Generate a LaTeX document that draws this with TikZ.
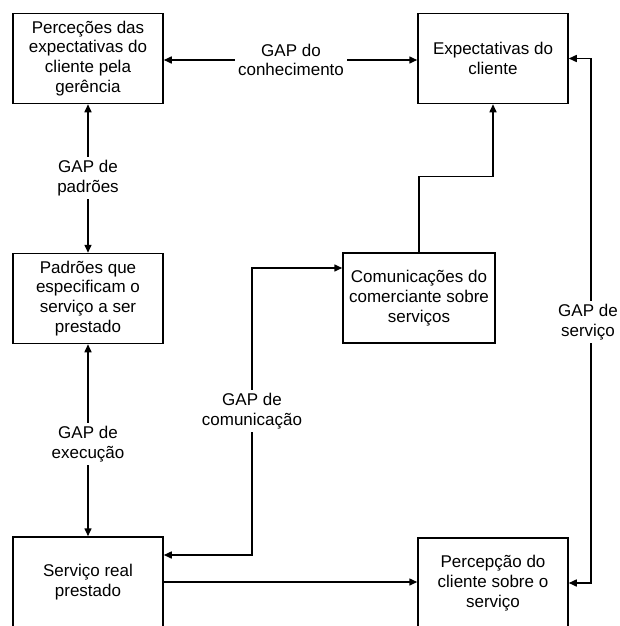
\documentclass[tikz,border=0pt]{standalone}
\usepackage{fontspec}
\setmainfont{Liberation Sans}
\usetikzlibrary{arrows.meta}
\begin{document}
\begin{tikzpicture}[x=1pt,y=-1pt,
  box/.style={draw,line width=1.5pt,minimum width=150pt,minimum height=90pt,align=center,inner sep=2pt,
    font=\fontsize{17}{19.8}\selectfont},
  gaplbl/.style={align=center,inner sep=3pt,font=\fontsize{17}{19.8}\selectfont},
  conn/.style={line width=1.5pt,-{Triangle[length=8pt,width=7pt]}}]
\useasboundingbox (0,0) rectangle (620,626);
\node[box] (b1) at (88,58.5) {Perceções das\\expectativas do\\cliente pela\\gerência};
\node[box] (b2) at (493,58.5) {Expectativas do\\cliente};
\node[box] (b3) at (88,298.5) {Padrões que\\especificam o\\serviço a ser\\prestado};
\node[box,minimum width=152pt] (cm) at (419,298) {Comunicações do\\comerciante sobre\\serviços};
\node[box] (b4) at (88,582) {Serviço real\\prestado};
\node[box] (pc) at (493,583) {Percepção do\\cliente sobre o\\serviço};
\node[gaplbl] (lcon) at (291,60) {GAP do\\conhecimento};
\node[gaplbl] (lpad) at (88,178) {GAP de\\padrões};
\node[gaplbl] (lexe) at (88,444) {GAP de\\execução};
\node[gaplbl] (lcom) at (252,411) {GAP de\\comunicação};
\node[gaplbl] (lsvc) at (588,322) {GAP de\\serviço};
\draw[conn] (lcon.west) -- (lcon.west -| b1.east);
\draw[conn] (lcon.east) -- (lcon.east -| b2.west);
\draw[conn] (lpad) -- (b1);
\draw[conn] (lpad) -- (b3);
\draw[conn] (lexe) -- (b3);
\draw[conn] (lexe) -- (b4);
\draw[conn] (lcom.north) |- ([yshift=30pt]cm.west);
\draw[conn] (lcom.south) |- ([yshift=27pt]b4.east);
\draw[conn] (cm.north) -- ++(0,-76) -| (b2.south);
\draw[conn] ([xshift=3pt]lsvc.north) |- (b2.east);
\draw[conn] ([xshift=3pt]lsvc.south) |- (pc.east);
\draw[conn] (b4.east) -- (b4.east -| pc.west);
\end{tikzpicture}
\end{document}
